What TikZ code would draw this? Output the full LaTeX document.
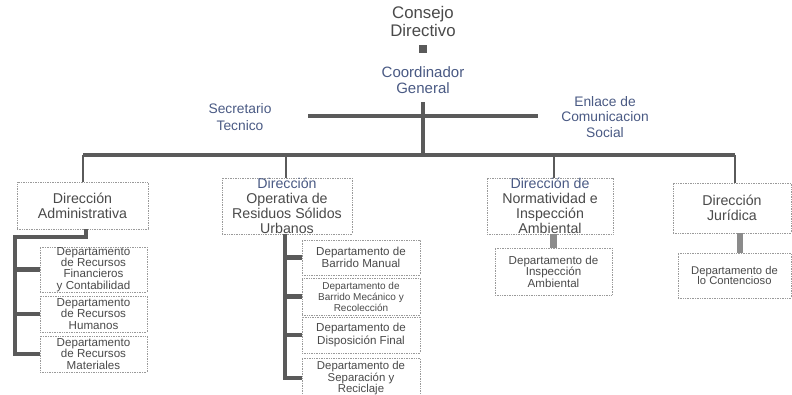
\documentclass[tikz,border=0pt]{standalone}
\usepackage{fontspec}
\setmainfont{Liberation Sans}
\definecolor{txt}{HTML}{4A4A4A}
\definecolor{bluetxt}{HTML}{4A5A84}
\definecolor{ln}{HTML}{5A5A5A}
\definecolor{bx}{HTML}{9A9A9A}
\begin{document}
\begin{tikzpicture}[x=1pt,y=-1pt,
  lbl/.style={align=center,text=txt,inner sep=0pt},
  dbox/.style={draw=bx,densely dotted,line width=0.7pt,align=center,text=txt,inner sep=0pt,anchor=center},
  dirbox/.style={dbox,font=\fontsize{14.2}{15}\selectfont},
  subbox/.style={dbox,font=\fontsize{11.6}{11.4}\selectfont},
  bus/.style={draw=ln,line width=3.6pt},
  drop/.style={draw=ln,line width=2.2pt},
  bar/.style={draw=ln,line width=4.2pt},
  hbar/.style={draw=ln!70,line width=6.5pt}]
\useasboundingbox (0,0) rectangle (792,394);
\fill[white] (0,0) rectangle (792,394);

% top
\node[lbl,font=\fontsize{16.8}{18}\selectfont] (consejo) at (423,21) {Consejo\\Directivo};
\node[fill=ln,minimum size=8pt,inner sep=0pt] (sq) at (423,49) {};
\node[lbl,text=bluetxt,font=\fontsize{15}{15.5}\selectfont] (coord) at (423,80) {Coordinador\\General};
\node[lbl,text=bluetxt,font=\fontsize{13.8}{16.5}\selectfont] (secre) at (240,117) {Secretario\\Tecnico};
\node[lbl,text=bluetxt,font=\fontsize{13.8}{15.5}\selectfont] (enlace) at (605,117) {Enlace de\\Comunicacion\\Social};

\coordinate (stL) at (308,116);
\coordinate (stR) at (538,116);
\coordinate (busL) at (83,155);
\coordinate (busR) at (735,155);
\coordinate (busC) at (423,155);
\coordinate (cT) at (423,102);

% direction boxes
\node[dirbox,minimum width=131pt,minimum height=47pt] (adm) at (82.5,205.5) {Dirección\\Administrativa};
\node[dirbox,minimum width=130pt,minimum height=56pt] (ope) at (287,206) {\textcolor{bluetxt}{Dirección}\\Operativa de\\Residuos Sólidos\\Urbanos};
\node[dirbox,minimum width=126pt,minimum height=56pt] (nor) at (550,206) {\textcolor{bluetxt}{Dirección de}\\Normatividad e\\Inspección\\Ambiental};
\node[dirbox,minimum width=118pt,minimum height=50pt] (jur) at (732,208) {Dirección\\Jurídica};

% connectors top
\draw[bus] (stL) -- (stR);
\draw[bus] (cT) -- (busC);
\draw[bus] (busL) -- (busR);
\draw[drop] (busL) -- (busL |- adm.north);
\coordinate (busO) at (286,155);
\coordinate (busN) at (554,155);
\draw[drop] (busO) -- (busO |- ope.north);
\draw[drop] (busN) -- (busN |- nor.north);
\draw[drop] (busR) -- (busR |- jur.north);

% admin subs
\node[subbox,minimum width=107pt,minimum height=45pt] (a1) at (93.5,269.5) {Departamento\\de Recursos\\Financieros\\y Contabilidad};
\node[subbox,minimum width=107pt,minimum height=36pt] (a2) at (93.5,314) {Departamento\\de Recursos\\Humanos};
\node[subbox,minimum width=107pt,minimum height=36pt] (a3) at (93.5,354) {Departamento\\de Recursos\\Materiales};
\coordinate (aT) at (15,237);
\coordinate (aS) at (86,229);
\draw[bar,line join=miter] (aS) |- (aT) |- (a3.west);
\draw[bar] (aT) |- (a1.west);
\draw[bar] (aT) |- (a2.west);

% operativa subs
\node[subbox,minimum width=118pt,minimum height=35pt] (o1) at (361,257.5) {Departamento de\\Barrido Manual};
\node[subbox,font=\fontsize{10}{11}\selectfont,minimum width=118pt,minimum height=37pt] (o2) at (361,296.5) {Departamento de\\Barrido Mecánico y\\Recolección};
\node[subbox,font=\fontsize{11.6}{12.5}\selectfont,minimum width=118pt,minimum height=36pt] (o3) at (361,335) {Departamento de\\Disposición Final};
\node[subbox,font=\fontsize{11.4}{10.5}\selectfont,minimum width=118pt,minimum height=40pt] (o4) at (361,378) {Departamento de\\Separación y\\Reciclaje};
\coordinate (oT) at (285,234);
\draw[bar,line join=miter] (oT) |- (o4.west);
\draw[bar] (oT) |- (o1.west);
\draw[bar] (oT) |- (o2.west);
\draw[bar] (oT) |- (o3.west);

% normatividad sub
\node[subbox,minimum width=117pt,minimum height=47pt] (n1) at (553.5,271.5) {Departamento de\\Inspección\\Ambiental};
\draw[hbar] (n1.north |- nor.south) -- (n1.north);

% juridica sub
\node[subbox,font=\fontsize{11.2}{10.5}\selectfont,minimum width=113pt,minimum height=45pt] (j1) at (734.5,275.5) {Departamento de\\lo Contencioso};
\coordinate (jX) at (740,0);
\draw[hbar] (jX |- jur.south) -- (jX |- j1.north);
\end{tikzpicture}
\end{document}
